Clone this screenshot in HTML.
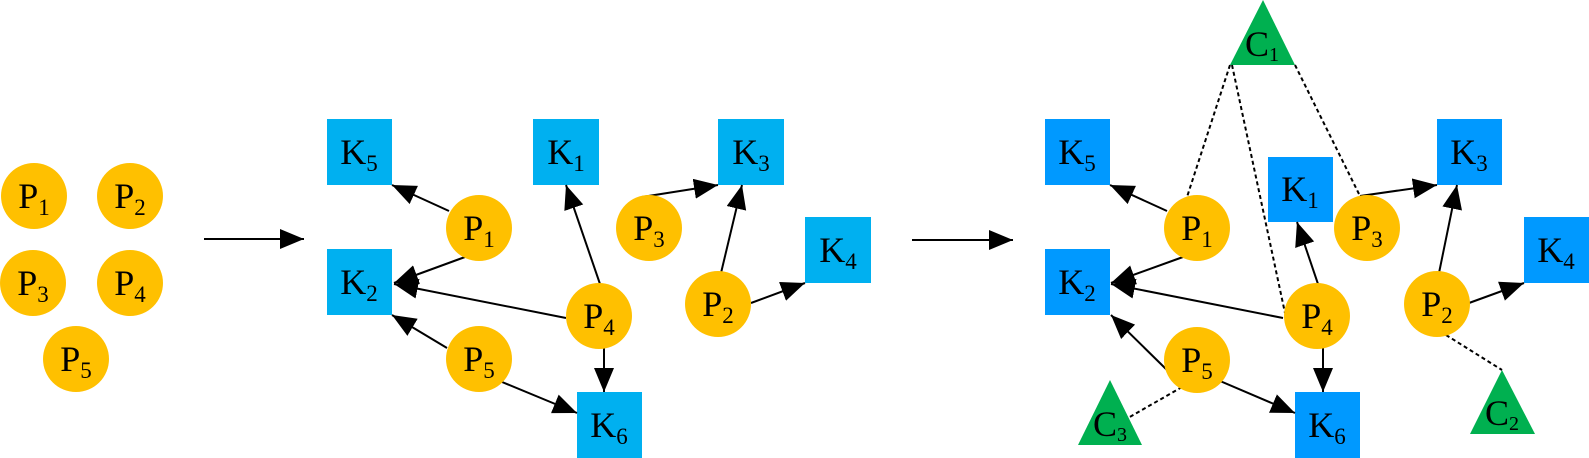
<!DOCTYPE html>
<html><head><meta charset="utf-8"><style>
html,body{margin:0;padding:0;background:#fff;}
svg{display:block;}
text{font-family:"Liberation Serif",serif;font-size:36px;fill:#000;}
</style></head><body>
<svg width="1589" height="458" viewBox="0 0 1589 458" xmlns="http://www.w3.org/2000/svg">
<defs>
<marker id="a" markerUnits="userSpaceOnUse" markerWidth="26" markerHeight="22" refX="24" refY="10" orient="auto">
<path d="M0,0 L24,10 L0,20 Z" fill="#000"/>
</marker>
</defs>
<g fill="#FFC000">
<circle cx="34" cy="196" r="33"/><circle cx="130" cy="196" r="33"/>
<circle cx="33" cy="283" r="33"/><circle cx="130" cy="283" r="33"/>
<circle cx="76" cy="359" r="33"/>
</g>
<g text-anchor="middle">
<text x="34" y="208">P<tspan font-size="23" dy="7">1</tspan></text>
<text x="130" y="208">P<tspan font-size="23" dy="7">2</tspan></text>
<text x="33" y="295">P<tspan font-size="23" dy="7">3</tspan></text>
<text x="130" y="295">P<tspan font-size="23" dy="7">4</tspan></text>
<text x="76" y="371">P<tspan font-size="23" dy="7">5</tspan></text>
</g>
<g stroke="#000" stroke-width="2" fill="none" marker-end="url(#a)">
<line x1="204" y1="239" x2="304" y2="239"/>
<line x1="912" y1="240" x2="1013" y2="240"/>
</g>

<!-- middle -->
<g fill="#00B0F0">
<rect x="327" y="119" width="65" height="66"/>
<rect x="533" y="119" width="66" height="66"/>
<rect x="718" y="119" width="66" height="66"/>
<rect x="327" y="249" width="65" height="66"/>
<rect x="805" y="217" width="66" height="66"/>
<rect x="577" y="392" width="65" height="66"/>
</g>
<g stroke="#000" stroke-width="2" fill="none" marker-end="url(#a)">
<line x1="449" y1="211" x2="392" y2="185"/>
<line x1="465" y1="257" x2="394" y2="283"/>
<line x1="566" y1="318" x2="394" y2="284"/>
<line x1="447" y1="348" x2="392" y2="315"/>
<line x1="600" y1="284" x2="566" y2="185"/>
<line x1="604" y1="347" x2="604" y2="392"/>
<line x1="502" y1="382" x2="577" y2="413"/>
<line x1="642" y1="197" x2="718" y2="185"/>
<line x1="721" y1="273" x2="742" y2="185"/>
<line x1="751" y1="303" x2="805" y2="283"/>
</g>
<g fill="#FFC000">
<circle cx="479" cy="228" r="33"/><circle cx="649" cy="228" r="33"/>
<circle cx="599" cy="316" r="33"/><circle cx="718" cy="304" r="33"/>
<circle cx="479" cy="359" r="33"/>
</g>
<g text-anchor="middle">
<text x="359" y="164">K<tspan font-size="23" dy="7">5</tspan></text>
<text x="566" y="164">K<tspan font-size="23" dy="7">1</tspan></text>
<text x="751" y="164">K<tspan font-size="23" dy="7">3</tspan></text>
<text x="359" y="294">K<tspan font-size="23" dy="7">2</tspan></text>
<text x="838" y="262">K<tspan font-size="23" dy="7">4</tspan></text>
<text x="609" y="437">K<tspan font-size="23" dy="7">6</tspan></text>
<text x="479" y="240">P<tspan font-size="23" dy="7">1</tspan></text>
<text x="649" y="240">P<tspan font-size="23" dy="7">3</tspan></text>
<text x="599" y="328">P<tspan font-size="23" dy="7">4</tspan></text>
<text x="718" y="316">P<tspan font-size="23" dy="7">2</tspan></text>
<text x="479" y="371">P<tspan font-size="23" dy="7">5</tspan></text>
</g>

<!-- right -->
<g fill="#0099FF">
<rect x="1045" y="119" width="65" height="66"/>
<rect x="1268" y="157" width="65" height="65"/>
<rect x="1437" y="119" width="65" height="66"/>
<rect x="1045" y="249" width="65" height="66"/>
<rect x="1524" y="217" width="65" height="66"/>
<rect x="1295" y="392" width="65" height="66"/>
</g>
<g fill="#00B050">
<polygon points="1263,0 1295,65 1230,65"/>
<polygon points="1110,380 1142,445 1078,445"/>
<polygon points="1502,370 1535,434 1470,434"/>
</g>
<g stroke="#000" stroke-width="2" fill="none" stroke-dasharray="4,3">
<line x1="1230" y1="65" x2="1187" y2="197"/>
<line x1="1232" y1="65" x2="1285" y2="313"/>
<line x1="1295" y1="65" x2="1360" y2="196"/>
<line x1="1446" y1="335" x2="1502" y2="370"/>
<line x1="1182" y1="387" x2="1128" y2="418"/>
</g>
<g stroke="#000" stroke-width="2" fill="none" marker-end="url(#a)">
<line x1="1167" y1="211" x2="1110" y2="185"/>
<line x1="1183" y1="257" x2="1111" y2="283"/>
<line x1="1283" y1="318" x2="1111" y2="284"/>
<line x1="1167" y1="370" x2="1111" y2="315"/>
<line x1="1318" y1="284" x2="1297" y2="222"/>
<line x1="1323" y1="348" x2="1323" y2="392"/>
<line x1="1220" y1="381" x2="1295" y2="413"/>
<line x1="1360" y1="196" x2="1437" y2="185"/>
<line x1="1439" y1="273" x2="1457" y2="185"/>
<line x1="1469" y1="303" x2="1524" y2="283"/>
</g>
<g fill="#FFC000">
<circle cx="1197" cy="228" r="33"/><circle cx="1367" cy="228" r="33"/>
<circle cx="1317" cy="316" r="33"/><circle cx="1437" cy="304" r="33"/>
<circle cx="1197" cy="360" r="33"/>
</g>
<g text-anchor="middle">
<text x="1077" y="164">K<tspan font-size="23" dy="7">5</tspan></text>
<text x="1300" y="201">K<tspan font-size="23" dy="7">1</tspan></text>
<text x="1469" y="164">K<tspan font-size="23" dy="7">3</tspan></text>
<text x="1077" y="294">K<tspan font-size="23" dy="7">2</tspan></text>
<text x="1556" y="262">K<tspan font-size="23" dy="7">4</tspan></text>
<text x="1327" y="437">K<tspan font-size="23" dy="7">6</tspan></text>
<text x="1197" y="240">P<tspan font-size="23" dy="7">1</tspan></text>
<text x="1367" y="240">P<tspan font-size="23" dy="7">3</tspan></text>
<text x="1317" y="328">P<tspan font-size="23" dy="7">4</tspan></text>
<text x="1437" y="316">P<tspan font-size="23" dy="7">2</tspan></text>
<text x="1197" y="372">P<tspan font-size="23" dy="7">5</tspan></text>
<text x="1262" y="56" font-size="30">C<tspan font-size="20" dy="5">1</tspan></text>
<text x="1110" y="436" font-size="30">C<tspan font-size="20" dy="5">3</tspan></text>
<text x="1502" y="425" font-size="30">C<tspan font-size="20" dy="5">2</tspan></text>
</g>
</svg>
</body></html>
